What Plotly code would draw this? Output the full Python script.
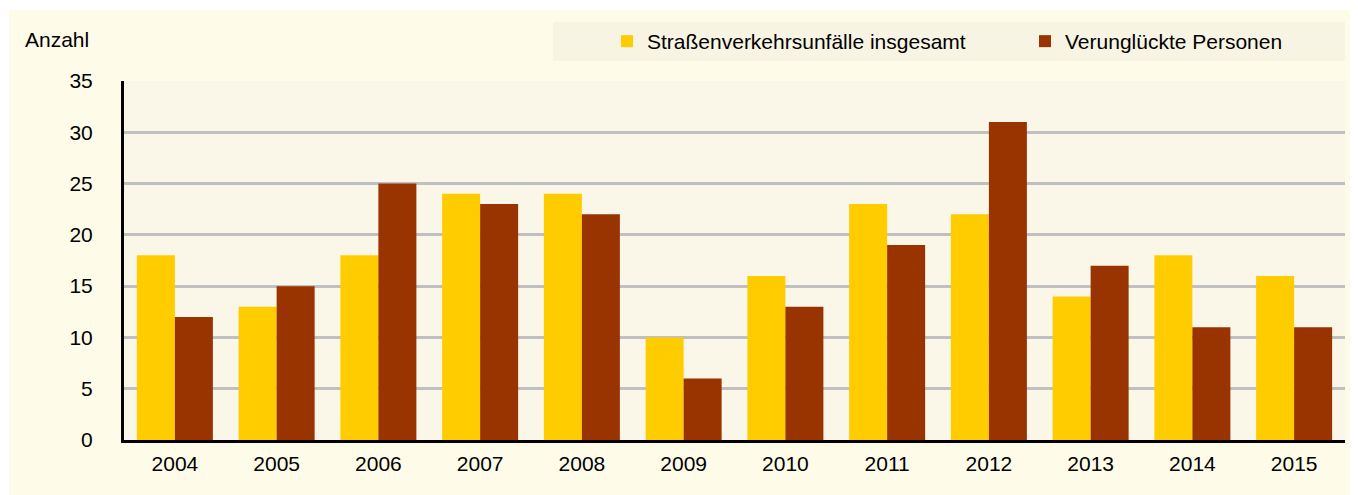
import plotly.graph_objects as go

years = ["2004", "2005", "2006", "2007", "2008", "2009", "2010", "2011", "2012", "2013", "2014", "2015"]
unfaelle = [18, 13, 18, 24, 24, 10, 16, 23, 22, 14, 18, 16]
verunglueckte = [12, 15, 25, 23, 22, 6, 13, 19, 31, 17, 11, 11]
series_names = ["Straßenverkehrsunfälle insgesamt", "Verunglückte Personen"]
y_ticks = [0, 5, 10, 15, 20, 25, 30, 35]

# figure is placed at (8, 8) on the page by the default body margin
W, H = 1350, 487
L, R, T, B = 116, 13, 73, 55
PW, PH = W - L - R, H - T - B

def px_x(x):
    return (x - L) / PW

def px_y(y):
    return (H - B - y) / PH

FONT = "Arial, Liberation Sans, sans-serif"
FS = 21

fig = go.Figure()
fig.add_trace(go.Bar(x=years, y=unfaelle, name=series_names[0], legend="legend",
                     marker=dict(color="#FFCC00", line=dict(width=0))))
fig.add_trace(go.Bar(x=years, y=verunglueckte, name=series_names[1], legend="legend2",
                     marker=dict(color="#993300", line=dict(width=0))))

legend_common = dict(
    orientation="h",
    yanchor="middle",
    y=px_y(33.5),
    bgcolor="rgba(0,0,0,0)",
    font=dict(family=FONT, size=FS, color="#000000"),
    itemclick=False, itemdoubleclick=False,
)

fig.update_layout(
    width=W, height=H,
    margin=dict(l=L, r=R, t=T, b=B, pad=0),
    paper_bgcolor="#FEFCE8",
    plot_bgcolor="#FAF7E8",
    barmode="group",
    bargap=0.253,
    bargroupgap=0,
    font=dict(family=FONT, size=FS, color="#000000"),
    showlegend=True,
    legend=dict(x=px_x(599), xanchor="left", **legend_common),
    legend2=dict(x=px_x(1017), xanchor="left", **legend_common),
    xaxis=dict(
        showline=True, linecolor="#000000", linewidth=3,
        showgrid=False, ticks="", zeroline=False,
        ticklabelstandoff=3,
        tickfont=dict(family=FONT, size=FS, color="#000000"),
    ),
    yaxis=dict(
        range=[0, 35],
        tickvals=y_ticks,
        showline=True, linecolor="#000000", linewidth=3,
        showgrid=True, gridcolor="#C0C0C0", gridwidth=2.5,
        zeroline=False, ticks="",
        ticklabelstandoff=24,
        tickfont=dict(family=FONT, size=FS, color="#000000"),
    ),
    shapes=[
        # legend background box
        dict(type="rect", xref="paper", yref="paper",
             x0=px_x(545), x1=px_x(1337), y0=px_y(53), y1=px_y(14),
             fillcolor="#F7F4E4", line=dict(width=0), layer="below"),
        # thin white border strips at top and left
        dict(type="rect", xref="paper", yref="paper",
             x0=px_x(-2), x1=px_x(W + 2), y0=px_y(2), y1=px_y(-2),
             fillcolor="#FFFFFF", line=dict(width=0), layer="above"),
        dict(type="rect", xref="paper", yref="paper",
             x0=px_x(-2), x1=px_x(1), y0=px_y(H + 2), y1=px_y(-2),
             fillcolor="#FFFFFF", line=dict(width=0), layer="above"),
    ],
    annotations=[
        dict(text="Anzahl", xref="paper", yref="paper",
             x=px_x(15), xanchor="left", y=px_y(32), yanchor="middle",
             showarrow=False, font=dict(family=FONT, size=FS, color="#000000")),
    ],
)

fig.write_html("out.html")
